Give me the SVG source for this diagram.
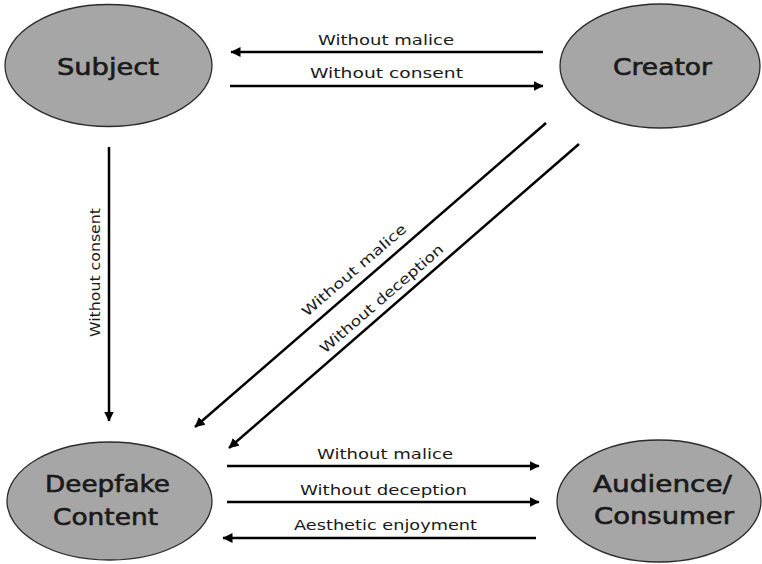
<svg xmlns="http://www.w3.org/2000/svg" width="762" height="564" viewBox="0 0 762 564">
<defs>
<marker id="ah" markerUnits="userSpaceOnUse" markerWidth="11" markerHeight="11" refX="9.5" refY="5" orient="auto">
<path d="M0,0 L10,5 L0,10 z" fill="#000"/>
</marker>
<style>
.node ellipse{fill:#a6a6a6;stroke:#2b2b2b;stroke-width:1.3}
.nt{font-family:"DejaVu Sans","Liberation Sans",sans-serif;font-size:23px;font-weight:normal;fill:#1a1a1a;stroke:#1a1a1a;stroke-width:0.6;text-anchor:middle}
.lbl{font-family:"DejaVu Sans","Liberation Sans",sans-serif;font-size:14px;fill:#1a1a1a;text-anchor:middle}
.edge{stroke:#000;stroke-width:2.5;fill:none;marker-end:url(#ah)}
</style>
</defs>
<rect width="762" height="564" fill="#fff"/>
<g id="subject" class="node">
<ellipse cx="108.5" cy="65.5" rx="103.5" ry="61"/>
<text class="nt" x="108" y="75" textLength="102" lengthAdjust="spacingAndGlyphs">Subject</text>
</g>
<g id="creator" class="node">
<ellipse cx="660" cy="66" rx="100" ry="62"/>
<text class="nt" x="662.5" y="75" textLength="99" lengthAdjust="spacingAndGlyphs">Creator</text>
</g>
<g id="deepfake" class="node">
<ellipse cx="109.5" cy="501" rx="102.5" ry="59"/>
<text class="nt" x="107.5" y="492" textLength="125" lengthAdjust="spacingAndGlyphs">Deepfake</text>
<text class="nt" x="105.5" y="525" textLength="105" lengthAdjust="spacingAndGlyphs">Content</text>
</g>
<g id="audience" class="node">
<ellipse cx="659" cy="501" rx="102" ry="61"/>
<text class="nt" x="662.5" y="492" textLength="139" lengthAdjust="spacingAndGlyphs">Audience/</text>
<text class="nt" x="664" y="524" textLength="140" lengthAdjust="spacingAndGlyphs">Consumer</text>
</g>
<g id="connectors">
<line class="edge" x1="543" y1="52" x2="231" y2="52"/>
<line class="edge" x1="230" y1="86" x2="543" y2="86"/>
<line class="edge" x1="109" y1="147" x2="109" y2="421"/>
<line class="edge" x1="546" y1="123" x2="195" y2="427"/>
<line class="edge" x1="579" y1="144" x2="229" y2="448"/>
<line class="edge" x1="227" y1="466" x2="539" y2="466"/>
<line class="edge" x1="227" y1="502" x2="539" y2="502"/>
<line class="edge" x1="536" y1="538" x2="223" y2="538"/>
<text class="lbl" x="386" y="45" textLength="136" lengthAdjust="spacingAndGlyphs">Without malice</text>
<text class="lbl" x="386.5" y="78" textLength="153" lengthAdjust="spacingAndGlyphs">Without consent</text>
<text class="lbl" transform="translate(100,272.5) rotate(-90)" x="0" y="0" font-size="15" textLength="129" lengthAdjust="spacingAndGlyphs">Without consent</text>
<text class="lbl" transform="translate(354,270) rotate(-40.8)" x="0" y="5" textLength="133" lengthAdjust="spacingAndGlyphs">Without malice</text>
<text class="lbl" transform="translate(381.5,298.5) rotate(-40.8)" x="0" y="5" textLength="158" lengthAdjust="spacingAndGlyphs">Without deception</text>
<text class="lbl" x="385" y="459" textLength="136" lengthAdjust="spacingAndGlyphs">Without malice</text>
<text class="lbl" x="383.5" y="495" textLength="167" lengthAdjust="spacingAndGlyphs">Without deception</text>
<text class="lbl" x="385.5" y="530" textLength="183" lengthAdjust="spacingAndGlyphs">Aesthetic enjoyment</text>
</g>
</svg>
